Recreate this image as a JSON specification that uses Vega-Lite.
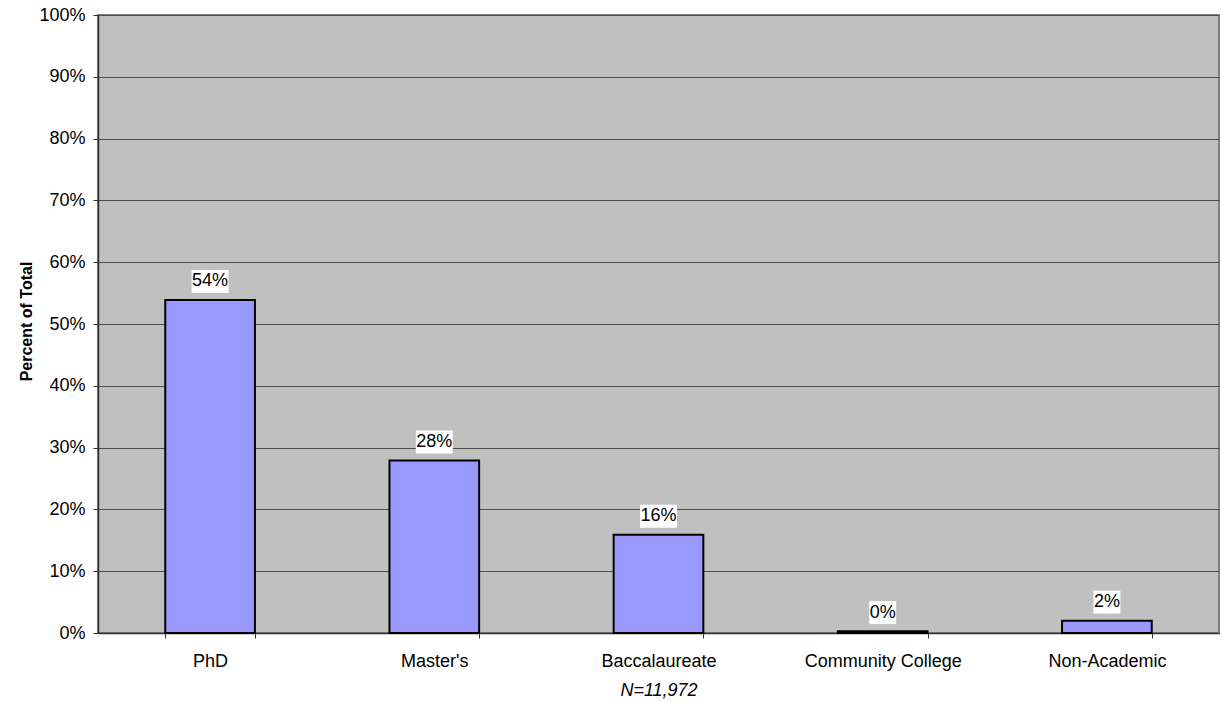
{
  "$schema": "https://vega.github.io/schema/vega-lite/v6.json",
  "width": 1121,
  "height": 618,
  "autosize": {"type": "none"},
  "padding": {"left": 98, "top": 15, "right": 3, "bottom": 69},
  "background": "white",
  "config": {
    "font": "Liberation Sans",
    "view": {"fill": "#C0C0C0", "stroke": "#808080", "strokeWidth": 2}
  },
  "data": {
    "values": [
      {"type": "PhD", "pct": 0.539},
      {"type": "Master's", "pct": 0.279},
      {"type": "Baccalaureate", "pct": 0.159},
      {"type": "Community College", "pct": 0.003},
      {"type": "Non-Academic", "pct": 0.02}
    ]
  },
  "encoding": {
    "x": {
      "field": "type",
      "type": "nominal",
      "sort": null,
      "scale": {"paddingInner": 0.6, "paddingOuter": 0.3},
      "axis": {
        "title": "N=11,972",
        "titleFontStyle": "italic",
        "titleFontWeight": "normal",
        "titleFontSize": 18,
        "titleColor": "black",
        "titleBaseline": "alphabetic",
        "titleY": 62,
        "labelAngle": 0,
        "labelFontSize": 18,
        "labelColor": "black",
        "labelBaseline": "alphabetic",
        "labelPadding": 28,
        "tickBand": "extent",
        "tickSize": 5,
        "tickColor": "#333333",
        "domainColor": "#333333",
        "domainWidth": 1.5,
        "grid": false
      }
    },
    "y": {
      "field": "pct",
      "type": "quantitative",
      "scale": {"domain": [0, 1], "nice": false},
      "axis": {
        "title": "Percent of Total",
        "titleFontSize": 16,
        "titleFontWeight": "bold",
        "titleColor": "black",
        "titleAngle": -90,
        "titleX": -72,
        "titleY": 306,
        "titleAlign": "center",
        "titleBaseline": "middle",
        "values": [0, 0.1, 0.2, 0.3, 0.4, 0.5, 0.6, 0.7, 0.8, 0.9, 1],
        "format": ".0%",
        "labelFontSize": 18,
        "labelColor": "black",
        "labelPadding": 8,
        "tickSize": 5,
        "tickColor": "#333333",
        "domainColor": "#333333",
        "domainWidth": 1.5,
        "grid": true,
        "gridColor": "#4d4d4d",
        "gridWidth": 1
      }
    }
  },
  "layer": [
    {"mark": {"type": "bar", "fill": "#9999FF", "stroke": "#000000", "strokeWidth": 2}},
    {
      "mark": {"type": "point", "filled": true, "fill": "white", "opacity": 1, "size": 1369, "yOffset": -18.5, "strokeWidth": 0},
      "encoding": {
        "shape": {
          "field": "type",
          "type": "nominal",
          "scale": {
            "domain": ["PhD", "Master's", "Baccalaureate", "Community College", "Non-Academic"],
            "range": [
              "M-1,-0.6216H1V0.6216H-1Z",
              "M-1,-0.6216H1V0.6216H-1Z",
              "M-1,-0.6216H1V0.6216H-1Z",
              "M-0.7297,-0.6216H0.7297V0.6216H-0.7297Z",
              "M-0.7297,-0.6216H0.7297V0.6216H-0.7297Z"
            ]
          },
          "legend": null
        }
      }
    },
    {
      "mark": {"type": "text", "fontSize": 18, "yOffset": -18.5, "baseline": "middle", "color": "black"},
      "encoding": {"text": {"field": "pct", "type": "quantitative", "format": ".0%"}}
    }
  ]
}
